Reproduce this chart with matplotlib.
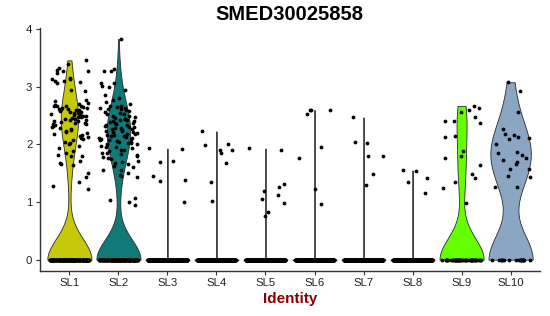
import numpy as np
import matplotlib
matplotlib.use('Agg')
import matplotlib.pyplot as plt

plt.rcParams['font.family'] = ['Liberation Sans', 'DejaVu Sans']

# ---------------- data ----------------
categories = ['SL1', 'SL2', 'SL3', 'SL4', 'SL5', 'SL6', 'SL7', 'SL8', 'SL9', 'SL10']
fill_colors = ['#C6C80A', '#107A78', '#E76BF3', '#00B0F6', '#9590FF',
               '#F8766D', '#00BF7D', '#D89000', '#66FF00', '#8BA6C3']

# number of cells with zero expression per identity
zero_counts = [150, 125, 300, 300, 300, 300, 300, 300, 45, 18]

# non-zero expression values per identity
SL1 = [3.46, 3.40, 3.33, 3.29, 3.28, 3.27, 3.24, 3.16, 3.14, 3.13, 3.11, 3.10, 3.08, 3.06,
       2.94, 2.92, 2.78, 2.75, 2.72, 2.70, 2.68, 2.67, 2.67, 2.66, 2.66, 2.65, 2.64, 2.63,
       2.62, 2.62, 2.61, 2.60, 2.60, 2.59, 2.58, 2.57, 2.56, 2.55, 2.54, 2.53, 2.52, 2.51,
       2.50, 2.50, 2.49, 2.48, 2.47, 2.46, 2.45, 2.44, 2.43, 2.42, 2.41, 2.40, 2.39, 2.38,
       2.37, 2.36, 2.35, 2.34, 2.32, 2.30, 2.28, 2.27, 2.25, 2.23, 2.21, 2.20, 2.18, 2.16,
       2.14, 2.13, 2.11, 2.10, 2.08, 2.05, 2.02, 2.00, 1.97, 1.93, 1.88, 1.86, 1.82, 1.80,
       1.80, 1.72, 1.68, 1.66, 1.64, 1.51, 1.43, 1.35, 1.28, 1.22]
SL2 = [3.83, 3.31, 3.28, 3.27, 3.07, 3.06, 3.02, 3.00, 2.95, 2.85, 2.80, 2.77, 2.74, 2.70,
       2.67, 2.66, 2.65, 2.64, 2.63, 2.62, 2.61, 2.60, 2.58, 2.56, 2.55, 2.53, 2.52, 2.50,
       2.49, 2.48, 2.46, 2.45, 2.44, 2.43, 2.42, 2.41, 2.40, 2.39, 2.38, 2.37, 2.36, 2.35,
       2.34, 2.33, 2.32, 2.31, 2.30, 2.29, 2.28, 2.27, 2.26, 2.25, 2.24, 2.23, 2.22, 2.21,
       2.20, 2.19, 2.18, 2.17, 2.16, 2.15, 2.14, 2.13, 2.12, 2.11, 2.10, 2.09, 2.08, 2.07,
       2.06, 2.05, 2.04, 2.03, 2.02, 2.01, 2.00, 1.98, 1.96, 1.95, 1.93, 1.91, 1.90, 1.88,
       1.86, 1.85, 1.83, 1.81, 1.80, 1.78, 1.76, 1.74, 1.72, 1.70, 1.68, 1.66, 1.63, 1.60,
       1.56, 1.56, 1.50, 1.47, 1.46, 1.44, 1.07, 1.03, 1.00, 0.95]
SL3 = [1.93, 1.92, 1.69, 1.72, 1.46, 1.39, 1.37, 1.00]
SL4 = [2.23, 1.90, 1.90, 1.99, 1.68, 2.00, 1.86, 1.35, 1.02]
SL5 = [1.93, 1.90, 1.32, 1.27, 0.82, 0.75, 1.13, 1.05, 1.20, 0.99]
SL6 = [2.60, 2.59, 2.53, 2.59, 1.95, 1.77, 1.22, 0.96]
SL7 = [2.47, 2.04, 2.03, 1.80, 1.80, 1.49, 1.30]
SL8 = [1.55, 1.54, 1.35, 1.41, 1.16]
SL9 = [2.67, 2.63, 2.57, 2.60, 2.41, 2.41, 2.48, 2.38, 2.13, 2.14, 1.80, 1.65, 1.88,
       1.77, 1.49, 1.42, 1.35, 1.25, 0.99]
SL10 = [3.08, 2.92, 2.57, 2.26, 2.19, 2.17, 2.13, 2.11, 2.09, 2.00, 1.86, 1.87, 1.77,
        1.70, 1.81, 1.73, 1.66, 1.57, 1.57, 1.44, 1.46, 1.26, 1.26]
nonzero_values = [SL1, SL2, SL3, SL4, SL5, SL6, SL7, SL8, SL9, SL10]

title = 'SMED30025858'
xlabel = 'Identity'


# ---------------- helpers ----------------
def bw_nrd0(x):
    n = len(x)
    hi = np.std(x, ddof=1)
    q75, q25 = np.percentile(x, [75, 25])
    lo = min(hi, (q75 - q25) / 1.34)
    if lo <= 0:
        lo = 1e-5  # tiny noise-driven bandwidth
    return 0.9 * lo * n ** (-0.2)


def violin_profile(x, npts=512):
    x = np.asarray(x, float)
    bw = bw_nrd0(x)
    grid = np.linspace(x.min(), x.max(), npts)
    z = (grid[:, None] - x[None, :]) / bw
    dens = np.exp(-0.5 * z ** 2).sum(axis=1) / (len(x) * bw * np.sqrt(2 * np.pi))
    return grid, dens / dens.max()


def jitter_offsets(n, seed):
    # deterministic hash-style jitter in [0, 1)
    k = np.arange(1, n + 1, dtype=float)
    v = np.sin(k * 12.9898 + seed * 78.233) * 43758.5453
    return v - np.floor(v)


# ---------------- figure ----------------
fig = plt.figure(figsize=(5.5, 3.16), dpi=100)
ax = fig.add_axes([40 / 550, 45.3 / 316, 500 / 550, 242.7 / 316])

half_width = 0.45
jitter = 0.4

for i, (cat, vals, nz, col) in enumerate(zip(categories, nonzero_values,
                                              zero_counts, fill_colors)):
    pos = i + 1
    data = np.concatenate([np.zeros(nz), np.asarray(vals, float)])
    grid, w = violin_profile(data)
    ax.fill_betweenx(grid, pos - w * half_width, pos + w * half_width,
                     facecolor=col, edgecolor='#2b2b2b', linewidth=0.6, zorder=2)
    offs = jitter_offsets(len(data), i + 1)
    xs = pos + (offs * 2 - 1) * jitter
    ax.scatter(xs, data, s=7.5, c='black', linewidths=0, zorder=3)

all_max = max(max(v) for v in nonzero_values)
ax.set_xlim(0.4, len(categories) + 0.6)
ax.set_ylim(-0.05 * all_max, all_max * 1.05)
ax.set_xticks(np.arange(1, len(categories) + 1))
ax.set_xticklabels(categories)
ax.set_yticks([0, 1, 2, 3, 4])

for s in ['top', 'right']:
    ax.spines[s].set_visible(False)
for s in ['left', 'bottom']:
    ax.spines[s].set_color('#333333')
    ax.spines[s].set_linewidth(1.0)
ax.tick_params(axis='both', length=3, width=0.8, color='#333333',
               labelsize=8.2, labelcolor='#222222', pad=2.5)

fig.text(0.527, 1 - 15 / 316, title, ha='center', va='center',
         fontsize=14.5, fontweight='bold', color='black')
fig.text(0.527, 1 - 299 / 316, xlabel, ha='center', va='center',
         fontsize=11, fontweight='bold', color='#8B0000')

fig.savefig('out.png', dpi=100)
